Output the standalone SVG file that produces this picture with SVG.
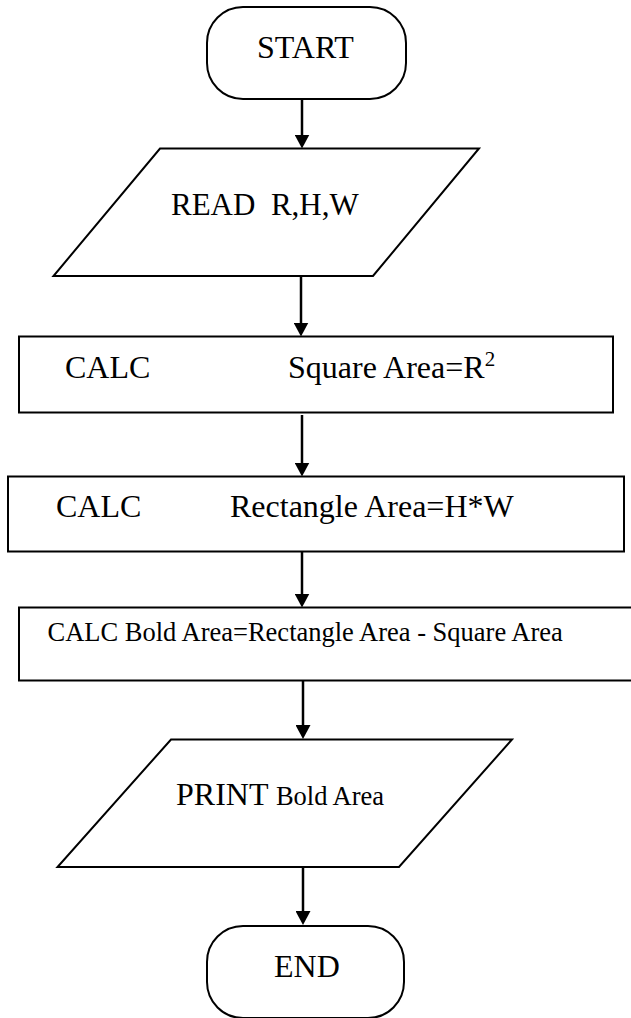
<svg xmlns="http://www.w3.org/2000/svg" width="631" height="1018" viewBox="0 0 631 1018">
  <defs>
    <style>
      .shape { fill: #ffffff; stroke: #000000; stroke-width: 2; }
      .flow { fill: none; stroke: #000000; stroke-width: 2.5; marker-end: url(#head); }
      .lbl { font-family: "Liberation Serif", "Times New Roman", serif; font-size: 32px; fill: #000000; }
      .mid { font-size: 31px; }
      .small { font-size: 26.5px; }
      .sup { font-size: 21px; }
    </style>
    <marker id="head" viewBox="0 0 14 15" refX="2" refY="7.5" markerWidth="14" markerHeight="15" markerUnits="userSpaceOnUse" orient="auto">
      <path d="M0,0 L14,7.5 L0,15 Z" fill="#000000"/>
    </marker>
  </defs>
  <rect width="631" height="1018" fill="#ffffff"/>

  <!-- flow arrows -->
  <g id="connectors">
    <line class="flow" x1="302" y1="99" x2="302" y2="136.5"/>
    <line class="flow" x1="301" y1="276" x2="301" y2="324.5"/>
    <line class="flow" x1="302" y1="415" x2="302" y2="464.5"/>
    <line class="flow" x1="302" y1="552" x2="302" y2="595.5"/>
    <line class="flow" x1="303" y1="681" x2="303" y2="727"/>
    <line class="flow" x1="303" y1="867" x2="303" y2="913"/>
  </g>

  <g id="start">
    <rect class="shape" x="207" y="7" width="199" height="92" rx="36" ry="36"/>
    <text class="lbl" x="257" y="58">START</text>
  </g>

  <g id="read">
    <polygon class="shape" points="160,148.5 479,148.5 373,276 53.5,276"/>
    <text class="lbl mid" x="171" y="215" xml:space="preserve">READ  R,H,W</text>
  </g>

  <g id="calc-square">
    <rect class="shape" x="19" y="336.5" width="594" height="76"/>
    <text class="lbl" x="65" y="378">CALC</text>
    <text class="lbl" x="288" y="378">Square Area=R<tspan class="sup" dy="-12">2</tspan></text>
  </g>

  <g id="calc-rectangle">
    <rect class="shape" x="8" y="476.5" width="616" height="75"/>
    <text class="lbl" x="56" y="517">CALC</text>
    <text class="lbl" x="230" y="517">Rectangle Area=H*W</text>
  </g>

  <g id="calc-bold">
    <rect class="shape" x="19" y="607.5" width="630" height="73"/>
    <text class="lbl small" x="47.5" y="641">CALC Bold Area=Rectangle Area - Square Area</text>
  </g>

  <g id="print">
    <polygon class="shape" points="171,739.5 512,739.5 399,867 57.5,867"/>
    <text class="lbl" x="176" y="805">PRINT <tspan class="small">Bold Area</tspan></text>
  </g>

  <g id="end">
    <rect class="shape" x="207" y="926" width="197" height="92" rx="36" ry="36"/>
    <text class="lbl" x="274" y="977">END</text>
  </g>
</svg>
